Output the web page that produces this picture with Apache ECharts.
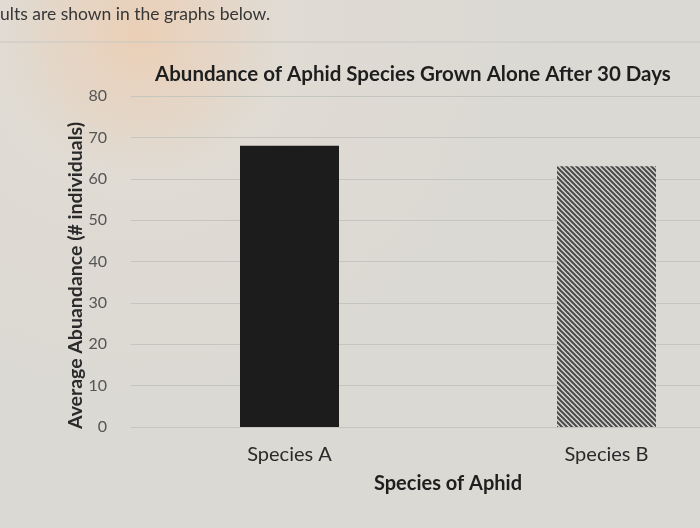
<!DOCTYPE html>
<html>
<head>
<meta charset="utf-8">
<script src="https://cdn.jsdelivr.net/npm/echarts@6/dist/echarts.min.js"></script>
<style>
  html, body { margin: 0; padding: 0; overflow: hidden; }
  /* the photo crops the plot on the right: draw wider and let the window cut it */
  #chart {
    width: 766px; height: 528px;
    background: radial-gradient(circle at 140px 35px, #ebcfb6 0, #e0dbd3 140px, #dad9d3 420px);
  }
</style>
</head>
<body>
<div id="chart"></div>
<script>
(function (echarts) {
    'use strict';

    const categories = ['Species A', 'Species B'];
    const abundance = [68, 63];
    const yTicks = { min: 0, max: 80, interval: 10 };

    // small diagonal stripe tile for the second bar
    function stripePattern() {
        const c = document.createElement('canvas');
        c.width = 5; c.height = 5;
        const ctx = c.getContext('2d');
        ctx.fillStyle = '#d4d4d0';
        ctx.fillRect(0, 0, 5, 5);
        ctx.strokeStyle = '#4a4a4a';
        ctx.lineWidth = 2;
        ctx.beginPath();
        ctx.moveTo(-1, -1); ctx.lineTo(6, 6);
        ctx.moveTo(-1, 4); ctx.lineTo(1, 6);
        ctx.moveTo(4, -1); ctx.lineTo(6, 1);
        ctx.stroke();
        return c;
    }

    const font = 'Lato, "Open Sans", sans-serif';
    const chart = echarts.init(document.getElementById('chart'), null, { renderer: 'canvas' });

    chart.setOption({
        backgroundColor: 'transparent',
        animation: false,
        title: {
            text: 'Abundance of Aphid Species Grown Alone After 30 Days',
            left: 150, top: 59,
            textStyle: { fontFamily: font, fontSize: 20.5, fontWeight: 'bold', color: '#1e1e1e' }
        },
        graphic: [
            {
                type: 'text', left: 0, top: 5,
                style: { text: 'ults are shown in the graphs below.', fontFamily: font, fontSize: 17.5, fill: '#363636' }
            },
            {
                type: 'line', shape: { x1: 0, y1: 42, x2: 766, y2: 42 },
                style: { stroke: '#c8c8c2', lineWidth: 1 }
            }
        ],
        grid: { left: 131, right: 1, top: 96, bottom: 101 },
        xAxis: {
            type: 'category',
            data: categories,
            name: 'Species of Aphid',
            nameLocation: 'middle',
            nameGap: 47,
            nameTextStyle: { fontFamily: font, fontSize: 20, fontWeight: 'bold', color: '#1e1e1e' },
            axisLine: { show: false },
            axisTick: { show: false },
            axisLabel: { margin: 18, fontFamily: font, fontSize: 20, color: '#2a2a2a' }
        },
        yAxis: {
            type: 'value',
            min: yTicks.min, max: yTicks.max, interval: yTicks.interval,
            name: 'Average Abuandance (# individuals)',
            nameLocation: 'middle',
            nameGap: 45,
            nameMoveOverlap: false,
            nameRotate: 90,
            nameTextStyle: {
                fontFamily: font, fontSize: 19.5, fontWeight: 'bold', color: '#2a2a2a',
                padding: [0, 28, 0, 0]
            },
            axisLine: { show: false },
            axisTick: { show: false },
            axisLabel: { margin: 24, fontFamily: font, fontSize: 16, color: '#555555' },
            splitLine: { lineStyle: { color: '#c6c6c0', width: 1 } }
        },
        series: [{
            type: 'bar',
            barWidth: 99,
            data: [
                { value: abundance[0], itemStyle: { color: '#1c1c1c' } },
                { value: abundance[1], itemStyle: { color: { image: stripePattern(), repeat: 'repeat' } } }
            ]
        }]
    });
})(echarts);
</script>
</body>
</html>
